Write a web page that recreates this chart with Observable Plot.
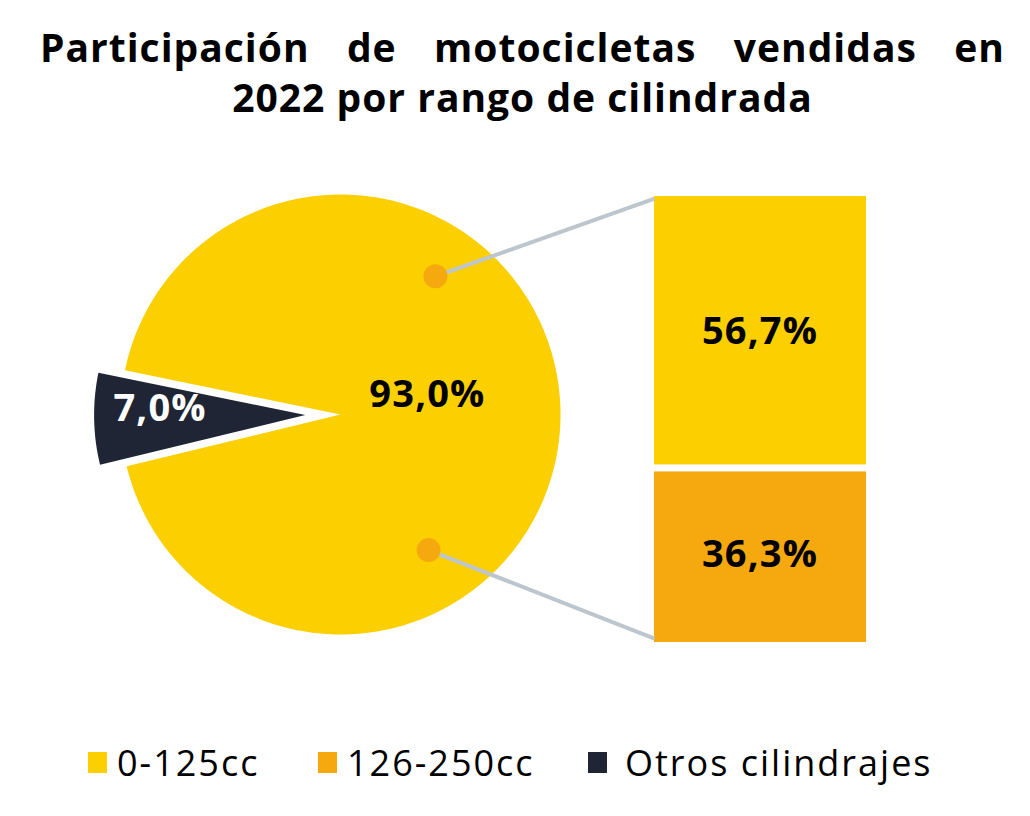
<!DOCTYPE html>
<html>
<head>
<meta charset="utf-8">
<script src="https://cdn.jsdelivr.net/npm/d3@7"></script>
<script src="https://cdn.jsdelivr.net/npm/@observablehq/plot@0.6"></script>
<style>
  html, body { margin: 0; padding: 0; background: #fff; width: 1030px; height: 816px; overflow: hidden; font-family: "Open Sans", sans-serif; }
  #title { position: absolute; left: 40px; top: 22px; width: 965px; font-weight: 700; font-size: 39px; letter-spacing: 1px; color: #000; line-height: 50px; }
  #t1 { text-align: justify; text-align-last: justify; }
  #t2 { text-align: center; }
  #chart { position: absolute; left: 0; top: 140px; }
  #legend { position: absolute; top: 737px; left: 0; width: 1030px; height: 50px; font-size: 36px; letter-spacing: 2px; color: #000; }
  .item { position: absolute; top: 0; display: flex; align-items: center; height: 50px; }
  .sw { width: 19px; height: 21px; margin-right: 10px; }
</style>
</head>
<body>
<div id="title"><div id="t1">Participación de motocicletas vendidas en</div><div id="t2">2022 por rango de cilindrada</div></div>
<div id="chart"></div>
<div id="legend"></div>
<script>
// ---- data ----
const categories = ["0-125cc", "126-250cc", "Otros cilindrajes"];
const shares = [56.7, 36.3, 7.0];
const colors = ["#FBCF00", "#F6A80F", "#1F2535"];
const fmt = v => v.toFixed(1).replace(".", ",") + "%";

// ---- layout ----
const W = 1030, H = 580, cx = 340, cy = 274, R = 220;
const mainShare = shares[0] + shares[1];
const otherShare = shares[2];

// pie polygons (unit radius)
function arcPoly(a0, a1, r, ox, oy, key, fill) {
  const pts = [{x: ox, y: oy, key, fill}];
  const n = Math.max(2, Math.ceil(Math.abs(a1 - a0) / 1));
  for (let i = 0; i <= n; i++) {
    const a = (a0 + (a1 - a0) * i / n) * Math.PI / 180;
    pts.push({x: ox + r * Math.cos(a), y: oy + r * Math.sin(a), key, fill});
  }
  pts.push({x: ox, y: oy, key, fill});
  return pts;
}
const mid = 181;
const half = otherShare / 100 * 360 / 2;
const ex = 0.16;
const pieData = [
  ...arcPoly(mid + half, mid + 360 - half, 1, 0, 0, "main", colors[0]),
  ...arcPoly(mid - half, mid + half, 0.96, ex * Math.cos(mid * Math.PI / 180), ex * Math.sin(mid * Math.PI / 180), "other", colors[2])
];

// stacked bar
const bx1 = (654 - cx) / R, bx2 = (866 - cx) / R;
const bBottom = (cy - 502) / R, bTop = (cy - 56) / R;
const k = (bTop - bBottom) / mainShare;
const barData = [
  {cat: categories[1], y1: bBottom, y2: bBottom + shares[1] * k, fill: colors[1], label: fmt(shares[1]), pos: "bottom"},
  {cat: categories[0], y1: bBottom + shares[1] * k, y2: bTop, fill: colors[0], label: fmt(shares[0]), pos: "top"}
];

// connectors
const polar = (deg, r) => ({x: r * Math.cos(deg * Math.PI / 180), y: r * Math.sin(deg * Math.PI / 180)});
const dTop = polar(55.5, 0.762), dBot = polar(-57, 0.735);
const dots = [dTop, dBot];
const links = [
  {x1: dTop.x, y1: dTop.y, x2: bx1, y2: bTop - 0.01},
  {x1: dBot.x, y1: dBot.y, x2: bx1, y2: bBottom + 0.018}
];

const pieLabels = [
  {x: 0.395, y: 0.09, text: fmt(mainShare), fill: "#000"},
  {x: -0.82, y: 0.025, text: fmt(otherShare), fill: "#fff"}
];

const chart = Plot.plot({
  width: W, height: H,
  margin: 0,
  x: {domain: [-cx / R, (W - cx) / R], range: [0, W], axis: null},
  y: {domain: [-(H - cy) / R, cy / R], range: [H, 0], axis: null},
  style: {fontFamily: "Open Sans, sans-serif", background: "transparent"},
  marks: [
    Plot.line(pieData, {x: "x", y: "y", z: "key", fill: "fill", stroke: null, curve: "linear"}),
    Plot.rect(barData.filter(d => d.pos === "bottom"), {x1: bx1, x2: bx2, y1: "y1", y2: "y2", fill: "fill", insetTop: 3.5}),
    Plot.rect(barData.filter(d => d.pos === "top"), {x1: bx1, x2: bx2, y1: "y1", y2: "y2", fill: "fill", insetBottom: 3.5}),
    Plot.link(links, {x1: "x1", y1: "y1", x2: "x2", y2: "y2", stroke: "#BCC6CC", strokeWidth: 4}),
    Plot.dot(dots, {x: "x", y: "y", r: 12, fill: "#F6A80F"}),
    Plot.text(barData, {x: (bx1 + bx2) / 2, y: d => (d.y1 + d.y2) / 2, text: "label", fill: "#000", fontSize: 38, fontWeight: 700, letterSpacing: 1,
      dx: d => d.pos === "bottom" ? 8 : 0, dy: d => d.pos === "bottom" ? -10 : 0}),
    Plot.text(pieLabels, {x: "x", y: "y", text: "text", fill: "fill", fontSize: 38, fontWeight: 700, letterSpacing: 1})
  ]
});
chart.querySelectorAll("text").forEach(t => t.setAttribute("letter-spacing", "1.2"));
document.getElementById("chart").appendChild(chart);

// legend
const legendX = [88, 318, 588];
const leg = document.getElementById("legend");
categories.forEach((c, i) => {
  const it = document.createElement("div");
  it.className = "item";
  it.style.left = legendX[i] + "px";
  it.innerHTML = `<div class="sw" style="background:${colors[i]};${i === 2 ? "margin-right:18px" : ""}"></div><span>${c}</span>`;
  leg.appendChild(it);
});
</script>
</body>
</html>
